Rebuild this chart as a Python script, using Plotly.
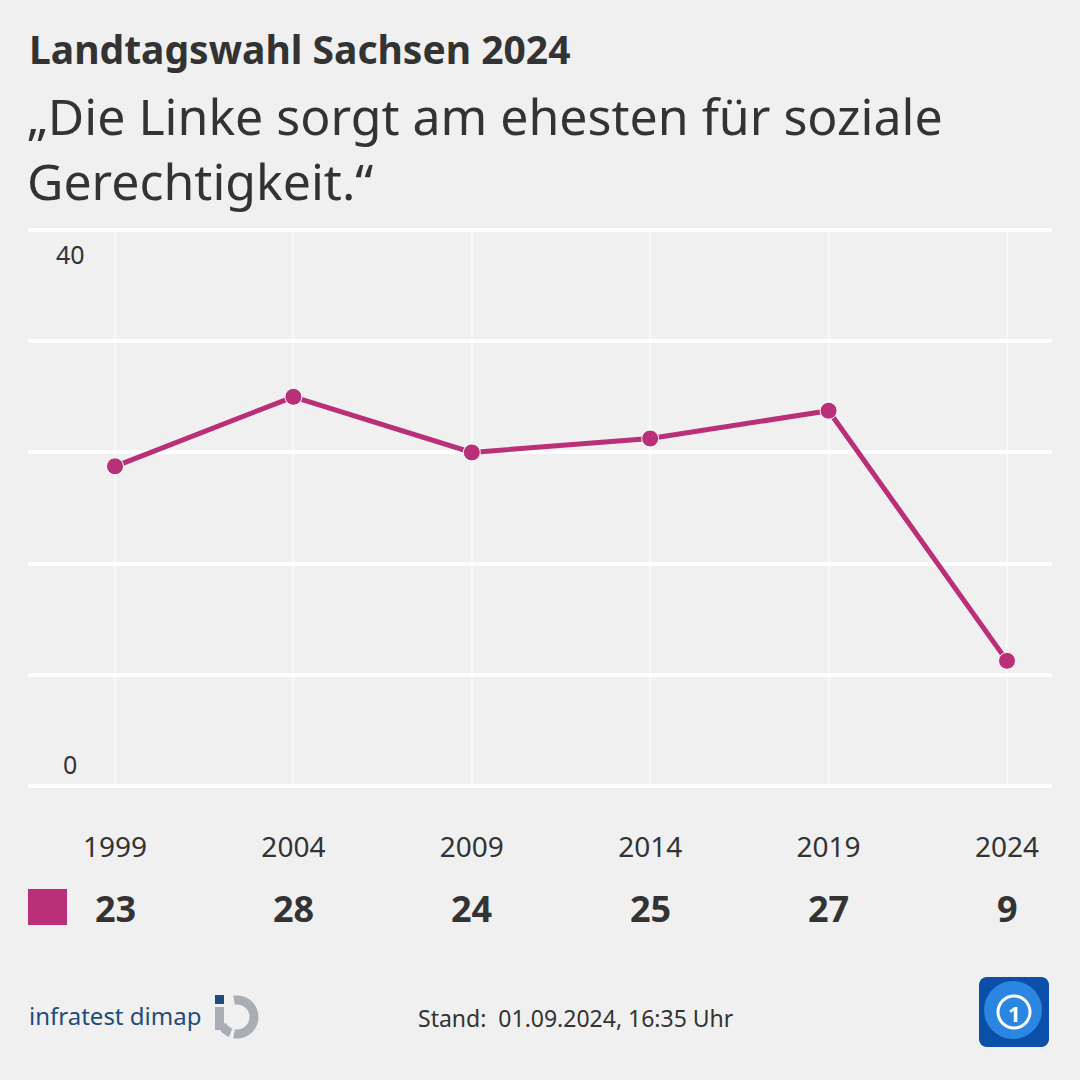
import plotly.graph_objects as go
import math

# ---------------- data ----------------
years = [1999, 2004, 2009, 2014, 2019, 2024]
values = [23, 28, 24, 25, 27, 9]
year_labels = ["1999", "2004", "2009", "2014", "2019", "2024"]
y_tick_vals = [0, 8, 16, 24, 32, 40]
y_label_vals = [0, 40]

title = "Landtagswahl Sachsen 2024"
subtitle = "„Die Linke sorgt am ehesten für soziale<br>Gerechtigkeit.“"
stand = "Stand:  01.09.2024, 16:35 Uhr"
source = "infratest dimap"

# ---------------- style ----------------
W, H = 1080, 1080
L, R, T, B = 28, 1052, 228, 788
BG = "#f0f0f0"
LINE = "#b92f78"
TXT = "#333333"
FONT = "Noto Sans"


def px(x, y):
    """pixel -> paper coordinates"""
    return (x - L) / (R - L), (B - y) / (B - T)


def path_from(points, close=True):
    s = ""
    for i, (x, y) in enumerate(points):
        u, v = px(x, y)
        s += ("M" if i == 0 else "L") + f"{u:.5f},{v:.5f} "
    if close:
        s += "Z"
    return s


fig = go.Figure()
fig.add_trace(go.Scatter(
    x=years, y=values, mode="lines+markers",
    line=dict(color=LINE, width=5),
    marker=dict(size=17, color=LINE, line=dict(color="white", width=1)),
    hoverinfo="skip", showlegend=False, cliponaxis=False,
))

x_left = years[0] - (115 - L) / 178.4 * 5
x_right = years[-1] + (R - 1007) / 178.4 * 5

fig.update_xaxes(
    range=[x_left, x_right], tickvals=years, ticktext=year_labels,
    showgrid=True, gridcolor="rgba(255,255,255,0.55)", gridwidth=1.5,
    zeroline=False, showline=False,
    ticks="outside", ticklen=34, tickcolor="rgba(0,0,0,0)",
    tickfont=dict(family=FONT, size=28, color=TXT),
)
fig.update_yaxes(
    range=[-0.15, 40.15], tickvals=y_tick_vals, showticklabels=False,
    showgrid=True, gridcolor="rgba(255,255,255,0.9)", gridwidth=4,
    zeroline=False, showline=False,
)

ann = []
# title + subtitle
tx, ty = px(27, 48)
ann.append(dict(x=tx, y=ty, xref="paper", yref="paper", text=f"<b>{title}</b>",
                showarrow=False, xanchor="left", yanchor="middle",
                font=dict(family=FONT, size=39, color=TXT)))
sx, sy = px(25, 148)
ann.append(dict(x=sx, y=sy, xref="paper", yref="paper", text=subtitle,
                showarrow=False, xanchor="left", yanchor="middle", align="left",
                font=dict(family=FONT, size=50, color=TXT)))

# y labels (inside plot)
lx, _ = px(70, 0)
for v in y_label_vals:
    if v == max(y_label_vals):
        ann.append(dict(x=lx, y=v, xref="paper", yref="y", text=str(v), showarrow=False,
                        xanchor="center", yanchor="top", yshift=-5,
                        font=dict(family=FONT, size=25, color=TXT)))
    else:
        ann.append(dict(x=lx, y=v, xref="paper", yref="y", text=str(v), showarrow=False,
                        xanchor="center", yanchor="bottom", yshift=3,
                        font=dict(family=FONT, size=25, color=TXT)))

# value row
_, vy = px(0, 908)
for x, v in zip(years, values):
    ann.append(dict(x=x, y=vy, xref="x", yref="paper", text=f"<b>{v}</b>",
                    showarrow=False, xanchor="center", yanchor="middle",
                    font=dict(family=FONT, size=36, color=TXT)))

# footer
fx, fy = px(27, 1015)
ann.append(dict(x=fx, y=fy, xref="paper", yref="paper", text=source, showarrow=False,
                xanchor="left", yanchor="middle",
                font=dict(family=FONT, size=24, color="#1e4d7b")))
stx, sty = px(416, 1018)
ann.append(dict(x=stx, y=sty, xref="paper", yref="paper", text=stand, showarrow=False,
                xanchor="left", yanchor="middle",
                font=dict(family=FONT, size=23, color=TXT)))
ox, oy = px(1014, 1013)
ann.append(dict(x=ox, y=oy, xref="paper", yref="paper", text="<b>1</b>", showarrow=False,
                xanchor="center", yanchor="middle",
                font=dict(family=FONT, size=22, color="white")))

shapes = []
# legend square
x0, y0 = px(28, 925)
x1, y1 = px(67, 889)
shapes.append(dict(type="rect", xref="paper", yref="paper", x0=x0, y0=y0, x1=x1, y1=y1,
                   fillcolor=LINE, line=dict(width=0)))

# infratest dimap logo mark
x0, y0 = px(215, 1004)
x1, y1 = px(224, 995)
shapes.append(dict(type="rect", xref="paper", yref="paper", x0=x0, y0=y0, x1=x1, y1=y1,
                   fillcolor="#1e4d7b", line=dict(width=0)))
x0, y0 = px(215, 1030)
x1, y1 = px(224, 1007)
shapes.append(dict(type="rect", xref="paper", yref="paper", x0=x0, y0=y0, x1=x1, y1=y1,
                   fillcolor="#a9aeb4", line=dict(width=0)))
cx, cy, ro, ri = 237, 1017, 21.5, 12.5
outer = [(cx + ro * math.cos(math.radians(a)), cy + ro * math.sin(math.radians(a)))
         for a in range(-100, 101, 5)]
inner = [(cx + ri * math.cos(math.radians(a)), cy + ri * math.sin(math.radians(a)))
         for a in range(100, -101, -5)]
shapes.append(dict(type="path", xref="paper", yref="paper", path=path_from(outer + inner),
                   fillcolor="#a9aeb4", line=dict(width=0)))
outer2 = [(cx + ro * math.cos(math.radians(a)), cy + ro * math.sin(math.radians(a)))
          for a in range(112, 156, 4)]
inner2 = [(cx + ri * math.cos(math.radians(a)), cy + ri * math.sin(math.radians(a)))
          for a in range(152, 108, -4)]
shapes.append(dict(type="path", xref="paper", yref="paper", path=path_from(outer2 + inner2),
                   fillcolor="#a9aeb4", line=dict(width=0)))

# ARD logo
rx0, ry0, rx1, ry1, rr = 979, 977, 1049, 1047, 8
pts = []
for (ccx, ccy, a0) in [(rx1 - rr, ry0 + rr, -90), (rx1 - rr, ry1 - rr, 0),
                       (rx0 + rr, ry1 - rr, 90), (rx0 + rr, ry0 + rr, 180)]:
    for a in range(a0, a0 + 91, 15):
        pts.append((ccx + rr * math.cos(math.radians(a)), ccy + rr * math.sin(math.radians(a))))
shapes.append(dict(type="path", xref="paper", yref="paper", path=path_from(pts),
                   fillcolor="#0b4fa8", line=dict(width=0)))
globe = [(1013 + 29 * math.cos(math.radians(a)), 1010 + 29 * math.sin(math.radians(a)))
         for a in range(0, 360, 8)]
shapes.append(dict(type="path", xref="paper", yref="paper", path=path_from(globe),
                   fillcolor="#2a86e0", line=dict(width=0)))
ring = [(1014 + 16 * math.cos(math.radians(a)), 1012 + 16 * math.sin(math.radians(a)))
        for a in range(0, 361, 8)]
shapes.append(dict(type="path", xref="paper", yref="paper", path=path_from(ring, close=True),
                   fillcolor="rgba(0,0,0,0)", line=dict(color="white", width=3)))

fig.update_layout(
    width=W, height=H, autosize=False,
    margin=dict(l=L, r=W - R, t=T, b=H - B, pad=0),
    paper_bgcolor=BG, plot_bgcolor=BG,
    annotations=ann, shapes=shapes,
    font=dict(family=FONT, color=TXT),
)

fig.write_html("out.html", config={"displayModeBar": False},
               post_script="document.body.style.margin='0';")
